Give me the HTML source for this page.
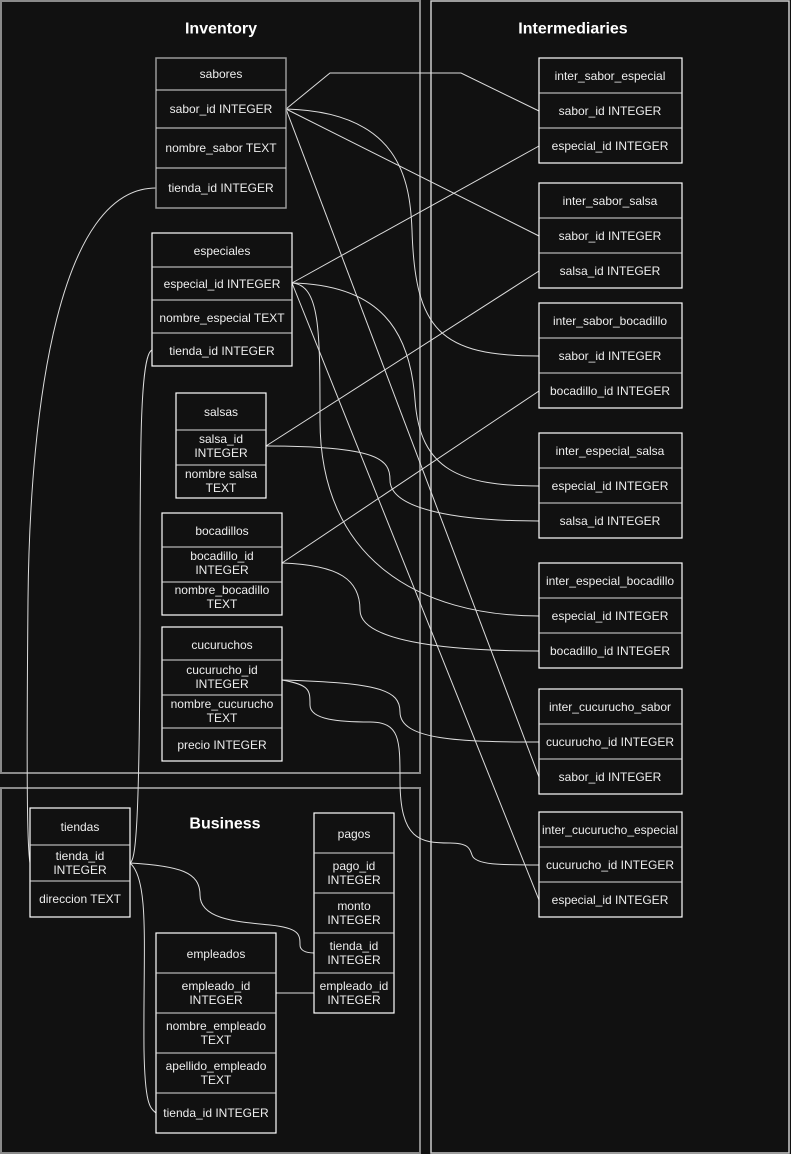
<!DOCTYPE html>
<html><head><meta charset="utf-8"><style>
html,body{margin:0;padding:0;background:#111;}
svg{display:block}
text{font-family:"Liberation Sans",sans-serif;font-size:12px;fill:#eee;text-anchor:middle;dominant-baseline:central}
.t{font-size:16px;font-weight:bold;fill:#fff}
.b{fill:#111;stroke:#fff;stroke-width:1.2}
.g{fill:none;stroke:#8a8a8a;stroke-width:2}
.l{fill:none;stroke:#ddd;stroke-width:1}
</style></head><body>
<svg width="791" height="1154" viewBox="0 0 791 1154" xmlns="http://www.w3.org/2000/svg">
<rect x="0" y="0" width="791" height="1154" fill="#111"/>
<rect class="g" x="1" y="1" width="419" height="772"/>
<rect class="g" x="1" y="788" width="419" height="365"/>
<rect x="431" y="1" width="358" height="1152" fill="none" stroke="#ccc" stroke-width="1.5"/>
<text class="t" x="221" y="29">Inventory</text>
<text class="t" x="225" y="824">Business</text>
<text class="t" x="573" y="29">Intermediaries</text>

<!-- connectors -->
<g class="l">
<path d="M286 109 L330 73 L461 73 L539 111"/>
<path d="M286 109 L539 236"/>
<path d="M286 109 C400 112 410 180 412 230 C415 330 440 356 539 356"/>
<path d="M286 109 L539 777"/>
<path d="M292 283 L539 146"/>
<path d="M292 283 C380 285 410 330 415 400 C420 470 460 486 539 486"/>
<path d="M292 283 C320 285 320 330 320 420 C320 560 420 616 539 616"/>
<path d="M292 283 L539 900"/>
<path d="M266 446 L539 271"/>
<path d="M266 446 C380 446 390 460 390 480 C390 510 460 521 539 521"/>
<path d="M282 563 L539 391"/>
<path d="M282 563 C340 565 360 580 360 610 C360 640 440 651 539 651"/>
<path d="M282 680 C380 683 400 690 400 712 C400 740 460 742 539 742"/>
<path d="M282 680 C310 685 310 690 310 705 C310 720 340 722 370 722 C400 722 400 740 400 780 C400 840 420 843 450 843 C470 843 470 850 472 855 C475 865 500 865 539 865"/>
<path d="M156 188 C60 188 30 400 28 600 C26 820 28 850 30 863"/>
<path d="M152 350 C140 355 140 450 140 600 C140 840 135 860 130 863"/>
<path d="M130 863 C150 880 143 950 144 1050 C145 1105 150 1108 156 1113"/>
<path d="M130 863 C180 866 200 872 200 895 C200 920 240 922 270 925 C300 928 300 935 300 945 C300 950 305 953 314 953"/>
<path d="M276 993 L314 993"/>
</g>

<!-- sabores -->
<g>
<rect x="156" y="58" width="130" height="150" fill="#111" stroke="#999" stroke-width="1.5"/>
<path class="l" d="M156 90H286M156 128H286M156 168H286" stroke="#fff"/>
<text x="221" y="74">sabores</text><text x="221" y="109">sabor_id INTEGER</text>
<text x="221" y="148">nombre_sabor TEXT</text><text x="221" y="188">tienda_id INTEGER</text>
</g>
<!-- especiales -->
<rect class="b" x="152" y="233" width="140" height="133"/>
<path class="l" stroke="#fff" d="M152 267H292M152 300H292M152 333H292"/>
<text x="222" y="251">especiales</text><text x="222" y="284">especial_id INTEGER</text>
<text x="222" y="318">nombre_especial TEXT</text><text x="222" y="351">tienda_id INTEGER</text>
<!-- salsas -->
<rect class="b" x="176" y="393" width="90" height="105"/>
<path class="l" stroke="#fff" d="M176 430H266M176 465H266"/>
<text x="221" y="412">salsas</text><text x="221" y="439">salsa_id</text><text x="221" y="453">INTEGER</text>
<text x="221" y="474">nombre salsa</text><text x="221" y="488">TEXT</text>
<!-- bocadillos -->
<rect class="b" x="162" y="513" width="120" height="102"/>
<path class="l" stroke="#fff" d="M162 547H282M162 582H282"/>
<text x="222" y="531">bocadillos</text><text x="222" y="556">bocadillo_id</text><text x="222" y="570">INTEGER</text>
<text x="222" y="590">nombre_bocadillo</text><text x="222" y="604">TEXT</text>
<!-- cucuruchos -->
<rect class="b" x="162" y="627" width="120" height="134"/>
<path class="l" stroke="#fff" d="M162 660H282M162 695H282M162 728H282"/>
<text x="222" y="645">cucuruchos</text><text x="222" y="670">cucurucho_id</text><text x="222" y="684">INTEGER</text>
<text x="222" y="704">nombre_cucurucho</text><text x="222" y="718">TEXT</text><text x="222" y="745">precio INTEGER</text>
<!-- tiendas -->
<rect class="b" x="30" y="808" width="100" height="109"/>
<path class="l" stroke="#fff" d="M30 845H130M30 881H130"/>
<text x="80" y="827">tiendas</text><text x="80" y="856">tienda_id</text><text x="80" y="870">INTEGER</text>
<text x="80" y="899">direccion TEXT</text>
<!-- pagos -->
<rect class="b" x="314" y="813" width="80" height="200"/>
<path class="l" stroke="#fff" d="M314 853H394M314 893H394M314 933H394M314 973H394"/>
<text x="354" y="834">pagos</text>
<text x="354" y="866">pago_id</text><text x="354" y="880">INTEGER</text>
<text x="354" y="906">monto</text><text x="354" y="920">INTEGER</text>
<text x="354" y="946">tienda_id</text><text x="354" y="960">INTEGER</text>
<text x="354" y="986">empleado_id</text><text x="354" y="1000">INTEGER</text>
<!-- empleados -->
<rect class="b" x="156" y="933" width="120" height="200"/>
<path class="l" stroke="#fff" d="M156 973H276M156 1013H276M156 1053H276M156 1093H276"/>
<text x="216" y="954">empleados</text>
<text x="216" y="986">empleado_id</text><text x="216" y="1000">INTEGER</text>
<text x="216" y="1026">nombre_empleado</text><text x="216" y="1040">TEXT</text>
<text x="216" y="1066">apellido_empleado</text><text x="216" y="1080">TEXT</text>
<text x="216" y="1113">tienda_id INTEGER</text>

<!-- intermediaries -->
<g>
<rect class="b" x="539" y="58" width="143" height="105"/><path class="l" stroke="#fff" d="M539 93H682M539 128H682"/>
<text x="610" y="76">inter_sabor_especial</text><text x="610" y="111">sabor_id INTEGER</text><text x="610" y="146">especial_id INTEGER</text>
<rect class="b" x="539" y="183" width="143" height="105"/><path class="l" stroke="#fff" d="M539 218H682M539 253H682"/>
<text x="610" y="201">inter_sabor_salsa</text><text x="610" y="236">sabor_id INTEGER</text><text x="610" y="271">salsa_id INTEGER</text>
<rect class="b" x="539" y="303" width="143" height="105"/><path class="l" stroke="#fff" d="M539 338H682M539 373H682"/>
<text x="610" y="321">inter_sabor_bocadillo</text><text x="610" y="356">sabor_id INTEGER</text><text x="610" y="391">bocadillo_id INTEGER</text>
<rect class="b" x="539" y="433" width="143" height="105"/><path class="l" stroke="#fff" d="M539 468H682M539 503H682"/>
<text x="610" y="451">inter_especial_salsa</text><text x="610" y="486">especial_id INTEGER</text><text x="610" y="521">salsa_id INTEGER</text>
<rect class="b" x="539" y="563" width="143" height="105"/><path class="l" stroke="#fff" d="M539 598H682M539 633H682"/>
<text x="610" y="581">inter_especial_bocadillo</text><text x="610" y="616">especial_id INTEGER</text><text x="610" y="651">bocadillo_id INTEGER</text>
<rect class="b" x="539" y="689" width="143" height="105"/><path class="l" stroke="#fff" d="M539 724H682M539 759H682"/>
<text x="610" y="707">inter_cucurucho_sabor</text><text x="610" y="742">cucurucho_id INTEGER</text><text x="610" y="777">sabor_id INTEGER</text>
<rect class="b" x="539" y="812" width="143" height="105"/><path class="l" stroke="#fff" d="M539 847H682M539 882H682"/>
<text x="610" y="830">inter_cucurucho_especial</text><text x="610" y="865">cucurucho_id INTEGER</text><text x="610" y="900">especial_id INTEGER</text>
</g>
</svg>
</body></html>
